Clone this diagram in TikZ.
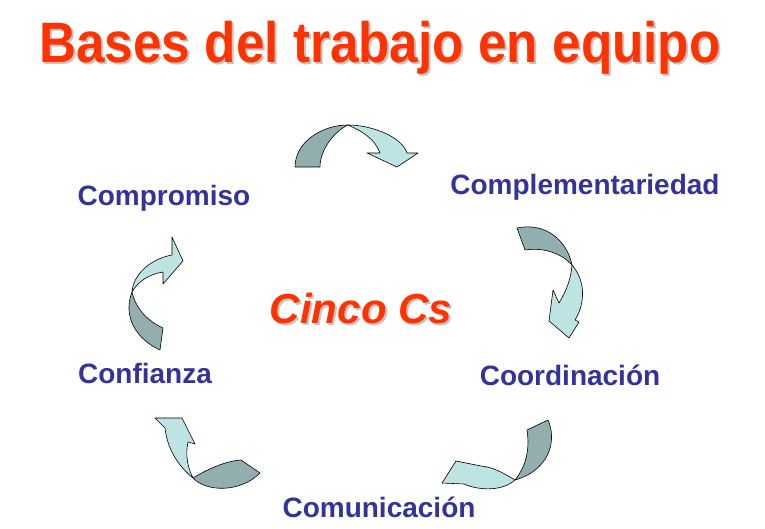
\documentclass[tikz,border=0pt]{standalone}
\usepackage{fontspec}
\setmainfont{Liberation Sans}
\newfontfamily\titlefont[FakeStretch=0.9]{Liberation Sans}
\usetikzlibrary{positioning}
\definecolor{titleRed}{HTML}{FF3300}
\definecolor{shadowGray}{HTML}{C4C4C4}
\definecolor{labelBlue}{HTML}{333399}
\definecolor{bandDark}{HTML}{93AEAE}
\definecolor{bandLight}{HTML}{BDE3E3}

\tikzset{
  backband/.style={draw,fill=bandDark,line width=0.6pt,line join=round},
  frontband/.style={draw,fill=bandLight,line width=0.6pt,line join=round},
  lbl/.style={font=\fontsize{28}{31}\selectfont\bfseries,text=labelBlue,
    anchor=base,inner sep=0pt},
  bigtxt/.style={anchor=base,inner sep=0pt}
}

\begin{document}
\begin{tikzpicture}[x=1pt,y=-1pt]
  \useasboundingbox (0,0) rectangle (765,529);
  % title with its shadow
  \node[bigtxt,text=shadowGray,
    font=\titlefont\fontsize{57}{60}\selectfont\bfseries] at (382,65) {Bases del trabajo en equipo};
  \node[bigtxt,text=titleRed,
    font=\titlefont\fontsize{57}{60}\selectfont\bfseries] (title) at (380,63) {Bases del trabajo en equipo};
  % centre text
  \node[bigtxt,text=shadowGray,
    font=\fontsize{42}{46}\selectfont\bfseries\itshape] at (363,325) {Cinco Cs};
  \node[bigtxt,text=titleRed,
    font=\fontsize{42}{46}\selectfont\bfseries\itshape] (cinco) at (361,323) {Cinco Cs};
  % the five Cs
  \node[lbl] (compromiso) at (164,206) {Compromiso};
  \node[lbl] (complement) at (585,195) {Complementariedad};
  \node[lbl] (coordina) at (570,385) {Coordinación};
  \node[lbl] (comunica) at (379,517) {Comunicación};
  \node[lbl] (confianza) at (145,383) {Confianza};

  % top arrow
  \draw[backband] (295,167) .. controls (295,142) and (322,125) .. (348,125)
    .. controls (335,131) and (320,149) .. (320,167) -- cycle;
  \draw[frontband] (348,125) .. controls (372,125) and (402,137) .. (407,153)
    -- (418,153) -- (397,167) -- (367,153) -- (380,153)
    .. controls (375,139) and (362,131) .. (348,125) -- cycle;
  % right arrow
  \draw[backband] (517,228) .. controls (545,222) and (567,240) .. (572,265)
    .. controls (562,254) and (545,247) .. (525,250) -- cycle;
  \draw[frontband] (572,265) .. controls (585,280) and (586,302) .. (575,320)
    -- (579,322) -- (569,338) -- (549,321) -- (553,290) -- (559,303)
    .. controls (567,290) and (571,278) .. (572,265) -- cycle;
  % lower right arrow
  \draw[backband] (548,420) .. controls (557,440) and (550,470) .. (515,480)
    .. controls (526,466) and (530,450) .. (527,430) -- cycle;
  \draw[frontband] (515,480) .. controls (502,472) and (492,467) .. (481,466)
    -- (456,461) -- (442,483) -- (464,484)
    .. controls (480,491) and (503,491) .. (515,480) -- cycle;
  % lower left arrow
  \draw[backband] (260,473) .. controls (240,493) and (206,492) .. (193,478)
    .. controls (206,470) and (225,461) .. (241,460) -- cycle;
  \draw[frontband] (193,478) .. controls (178,466) and (167,448) .. (165,428)
    -- (155,418) -- (182,418) -- (195,444) -- (188,442)
    .. controls (185,456) and (188,468) .. (193,478) -- cycle;
  % left arrow
  \draw[backband] (160,350) .. controls (138,340) and (122,318) .. (132,292)
    .. controls (135,306) and (145,320) .. (163,328) -- cycle;
  \draw[frontband] (132,292) .. controls (133,275) and (150,259) .. (172,255)
    -- (172,237) -- (183,261) -- (163,284) -- (163,272)
    .. controls (150,274) and (138,281) .. (132,292) -- cycle;
\end{tikzpicture}
\end{document}
